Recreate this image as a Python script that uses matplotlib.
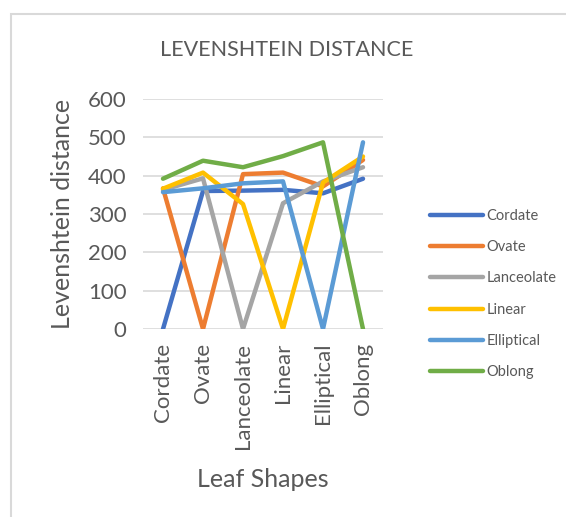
import matplotlib
matplotlib.use("Agg")
import matplotlib.pyplot as plt
from matplotlib.patches import Rectangle

plt.rcParams['font.family'] = ['Lato', 'DejaVu Sans']

# Формы листьев (категории оси X и серии)
shapes = ['Cordate', 'Ovate', 'Lanceolate', 'Linear', 'Elliptical', 'Oblong']

# Значения расстояния Левенштейна для каждой серии
cordate = [0, 360, 361, 363, 354, 392]
ovate = [367, 0, 404, 408, 372, 441]
lanceolate = [363, 393, 0, 328, 385, 422]
linear = [366, 408, 326, 0, 382, 450]
elliptical = [357, 367, 380, 385, 0, 487]
oblong = [392, 439, 422, 451, 487, 0]

series = [cordate, ovate, lanceolate, linear, elliptical, oblong]
colors = ['#4472C4', '#ED7D31', '#A5A5A5', '#FFC000', '#5B9BD5', '#70AD47']
yticks = [0, 100, 200, 300, 400, 500, 600]

txt = '#595959'

fig = plt.figure(figsize=(5.66, 5.17), dpi=100)
ax = fig.add_axes([143/566, 1 - 329/517, 240/566, 230/517])

x = list(range(len(shapes)))
for name, vals, c in zip(shapes, series, colors):
    ax.plot(x, vals, color=c, lw=3.2, label=name, solid_capstyle='round', zorder=3)

ax.set_xlim(-0.5, 5.5)
ax.set_ylim(0, 600)
ax.set_yticks(yticks)
ax.set_xticks(x)
ax.set_xticklabels(shapes, rotation=90, fontsize=16, color=txt)
ax.tick_params(axis='y', labelsize=16, labelcolor=txt, length=0, pad=12)
ax.tick_params(axis='x', length=0, pad=10)
ax.grid(axis='y', color='#D9D9D9', lw=1.2, zorder=0)
for s in ax.spines.values():
    s.set_visible(False)

ax.set_ylabel('Levenshtein distance', fontsize=18, color=txt, labelpad=10)
ax.set_xlabel('Leaf Shapes', fontsize=18, color=txt, labelpad=14)
fig.text(287/566, 1 - 50/517, 'LEVENSHTEIN DISTANCE', fontsize=15.5, color=txt,
         ha='center', va='center')

fig.legend(loc='center left', bbox_to_anchor=(417/566, 1 - 294/517),
           frameon=False, fontsize=10.5, labelcolor=txt, handlelength=3.6,
           handletextpad=0.25, labelspacing=1.19)

# рамка области диаграммы
fig.patches.append(Rectangle((11/566, -0.1), 1.2, 1.1 - 14/517, transform=fig.transFigure,
                             fill=False, edgecolor='#D9D9D9', lw=1.5))

fig.savefig('out.png', dpi=100)
